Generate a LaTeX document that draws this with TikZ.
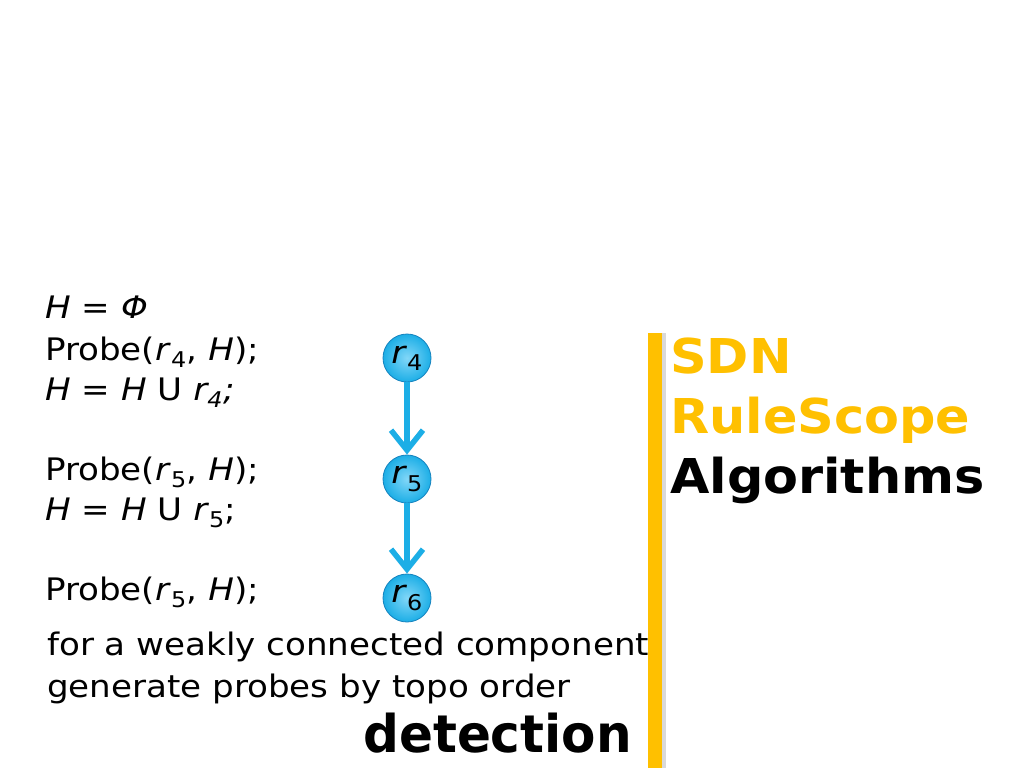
\documentclass[tikz,border=0pt]{standalone}
\usepackage{fontspec}
\setmainfont{DejaVu Sans}[FakeStretch=1.1]
\newfontfamily\ttlfont{DejaVu Sans}[FakeStretch=1.06]
\newfontfamily\condfont{DejaVu Sans Condensed}[FakeStretch=1.07]
\usetikzlibrary{arrows.meta,positioning}
\definecolor{sky}{RGB}{28,174,230}
\definecolor{skyhi}{RGB}{130,215,248}
\definecolor{skydk}{RGB}{20,130,190}
\definecolor{gold}{RGB}{255,192,0}
\newcommand{\rv}[1]{\textit{r}\textsubscript{#1}}
\tikzset{ln/.style={anchor=base west,inner sep=0pt,font=\fontsize{31}{36}\selectfont},
 rule/.style={circle,minimum size=48pt,inner sep=0pt,draw=skydk,line width=.8pt,inner color=skyhi,outer color=sky,font=\fontsize{31}{32}\selectfont},
 flow/.style={-{Straight Barb[length=20pt,width=32pt]},line width=5.5pt,draw=sky},
 ttl/.style={anchor=base west,inner sep=0pt,font=\fontsize{48}{56}\selectfont\ttlfont\bfseries}}
\begin{document}
\begin{tikzpicture}[x=1pt,y=-1pt]
\useasboundingbox (0,0) rectangle (1024,768);
\fill[white](0,0)rectangle(1024,768);
% pseudo code
\node[ln] (l1) at(45,318){\textit{H} = \textit{Φ}};
\node[ln] (l2) at(45,360){Probe(\rv{4}, \textit{H});};
\node[ln] (l3) at(45,400){\textit{H} = \textit{H} U \textit{r\textsubscript{4};}};
\node[ln] (l4) at(45,480){Probe(\rv{5}, \textit{H});};
\node[ln] (l5) at(45,520){\textit{H} = \textit{H} U \rv{5};};
\node[ln] (l6) at(45,600){Probe(\rv{5}, \textit{H});};
\node[ln] (c1) at(47,655){for a weakly connected component};
\node[ln] (c2) at(47,697){generate probes by topo order};
\node[anchor=base east,inner sep=0pt,font=\fontsize{52}{56}\selectfont\condfont\bfseries] (det) at(632,752){detection};
% rule graph
\node[rule] (r4) at(407,358){\rv{4}};
\node[rule] (r5) at(407,479){\rv{5}};
\node[rule] (r6) at(407,598){\rv{6}};
\draw[flow](r4)--(r5);\draw[flow](r5)--(r6);
% title bar
\fill[black!15](662,333)rectangle(666,768);
\fill[gold](648,333)rectangle(662,768);
\node[ttl,text=gold] (t1) at(670,373){SDN};
\node[ttl,text=gold] (t2) at(670,433){RuleScope};
\node[ttl] (t3) at(670,493){Algorithms};
\end{tikzpicture}
\end{document}
